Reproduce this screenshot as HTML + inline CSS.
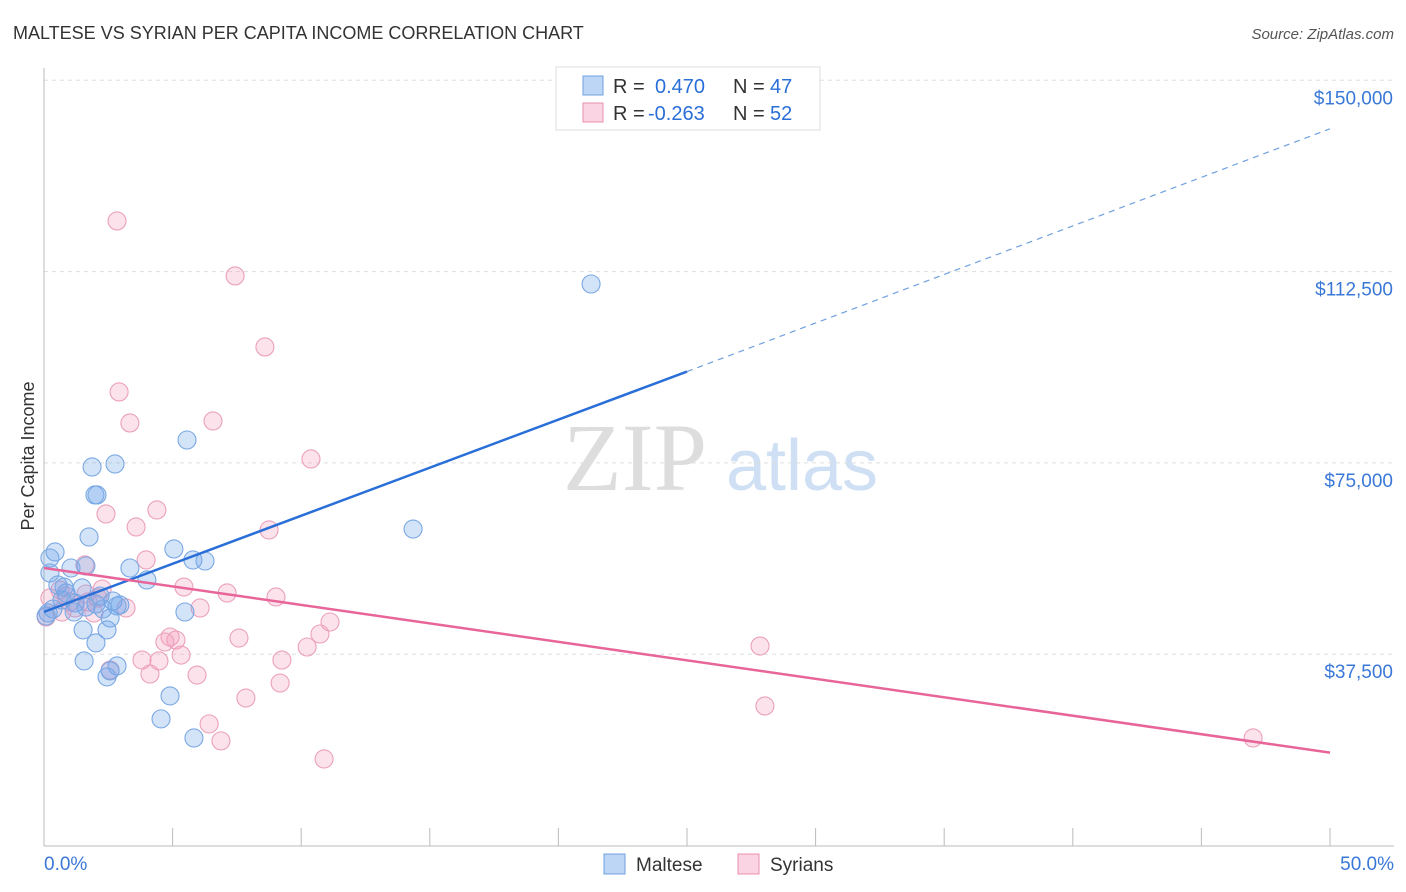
<!DOCTYPE html>
<html><head><meta charset="utf-8"><style>
body{margin:0;background:#fff;font-family:"Liberation Sans",sans-serif}
svg{display:block}
</style></head><body>
<svg id="chart" width="1406" height="892" xmlns="http://www.w3.org/2000/svg" font-family="Liberation Sans, sans-serif">
<text x="13" y="39" font-size="18" fill="#333">MALTESE VS SYRIAN PER CAPITA INCOME CORRELATION CHART</text>
<text x="1394" y="39" font-size="15" fill="#555" font-style="italic" text-anchor="end">Source: ZipAtlas.com</text>
<g>
<text x="635" y="490" font-size="96" fill="#ddd" font-family="Liberation Serif, serif" text-anchor="middle">ZIP</text>
<text x="802" y="490" font-size="72" fill="#cfe0f5" text-anchor="middle">atlas</text>
</g>
<g id="grid"></g>
<g id="axes"></g>
<g id="marks"></g>
<text transform="translate(34,456) rotate(-90)" font-size="18" fill="#333" text-anchor="middle">Per Capita Income</text>
<g>
<rect x="556" y="67" width="264" height="63" fill="#fff" stroke="#ddd"/>
<rect x="583" y="76" width="20" height="19" fill="rgba(110,165,235,0.45)" stroke="#6fa0e0"/>
<rect x="583" y="103" width="20" height="19" fill="rgba(245,160,190,0.45)" stroke="#e890b0"/>
<text x="613" y="93" font-size="20" fill="#333">R = <tspan x="655" fill="#2a6fd8">0.470</tspan><tspan x="733">N = </tspan><tspan x="770" fill="#2a6fd8">47</tspan></text>
<text x="613" y="120" font-size="20" fill="#333">R = <tspan x="648" fill="#2a6fd8">-0.263</tspan><tspan x="733">N = </tspan><tspan x="770" fill="#2a6fd8">52</tspan></text>
</g>
<g>
<rect x="604" y="854" width="21" height="20" fill="rgba(110,165,235,0.45)" stroke="#6fa0e0"/>
<text x="636" y="871" font-size="19" fill="#333">Maltese</text>
<rect x="738" y="854" width="21" height="20" fill="rgba(245,160,190,0.45)" stroke="#e890b0"/>
<text x="770" y="871" font-size="19" fill="#333">Syrians</text>
</g>
</svg>
<script>
const yTicks=[37500,75000,112500,150000];
const yTickLabels=["$37,500","$75,000","$112,500","$150,000"];
const xTickLabels=["0.0%","50.0%"];
const malteseX=[21.27,5.56,1.87,2.76,1.98,2.06,14.35,1.75,0.43,5.05,5.79,6.26,0.23,3.34,1.63,1.05,0.23,4.0,0.54,1.48,0.86,2.18,0.70,1.21,2.68,2.84,2.02,1.63,0.35,5.48,1.17,2.57,0.16,2.45,1.52,2.02,1.56,2.84,2.57,2.45,4.90,4.55,5.83,2.29,0.78,2.95,0.08];
const malteseY=[110070,79490,74200,74790,68710,68710,62040,60480,57540,58130,55970,55770,56360,54400,54790,54400,53420,52050,51070,50480,49500,48910,48130,47540,47930,46950,47340,46750,46360,45770,45770,44590,45580,42260,42260,39710,36180,35200,34220,33050,29320,24820,21080,46360,50670,47150,44990];
const syriansX=[2.84,7.43,8.59,2.92,3.34,6.57,10.38,2.41,4.39,3.58,8.75,3.97,1.59,5.44,2.26,7.12,9.02,0.62,1.71,6.07,3.19,1.94,1.01,0.23,0.08,11.12,10.73,7.58,4.90,5.13,4.70,10.23,5.33,3.81,4.47,9.25,27.84,5.95,4.12,2.57,9.18,7.85,28.03,6.42,6.88,47.01,10.89,0.70,1.21,2.10,1.63,0.86];
const syriansY=[122430,111650,97730,88910,82830,83220,75770,64990,65770,62440,61850,55970,54990,50670,50280,49500,48720,50080,47740,46560,46560,45580,47740,48520,44790,43810,41460,40670,40870,40280,39890,38910,37340,36360,36180,36360,39100,33420,33620,34400,31850,28910,27350,23840,20510,21080,16960,45770,46560,48520,49300,48910];
const blueTrend=[[0,45800],[25,92900],[50,140500]];
const pinkTrend=[[0,54400],[50,18200]];
const X0=44,X1=1330,Y0=845.5,YPX=191.3/37500;
const sx=v=>X0+(v/50)*(X1-X0);
const sy=v=>Y0-v*YPX;
const NS="http://www.w3.org/2000/svg";
function mk(t,a,p){const e=document.createElementNS(NS,t);for(const k in a)e.setAttribute(k,a[k]);p.appendChild(e);return e;}
const gridG=document.getElementById('grid'),axesG=document.getElementById('axes'),marksG=document.getElementById('marks');
yTicks.forEach((t,i)=>{
 const l=mk('line',{x1:44,x2:1394,y1:sy(t),y2:sy(t),stroke:'#ddd','stroke-dasharray':'4,4'},gridG);
 
 
 const tx=mk('text',{x:1393,y:sy(t)+24,'font-size':19,fill:'#3a78d8','text-anchor':'end'},axesG);
 tx.textContent=yTickLabels[i];
 
 
});
const ya=mk('line',{x1:44,x2:44,y1:68,y2:846,stroke:'#bbb'},axesG);


const xa=mk('line',{x1:44,x2:1394,y1:846,y2:846,stroke:'#bbb'},axesG);


for(let i=0;i<=10;i++){
 const t=mk('line',{x1:sx(i*5),x2:sx(i*5),y1:828,y2:846,stroke:'#bbb'},axesG);
 
 
}
const xl0=mk('text',{x:44,y:870,'font-size':19,fill:'#3a78d8'},axesG);xl0.textContent=xTickLabels[0];


const xl1=mk('text',{x:1394,y:870,'font-size':19,fill:'#3a78d8','text-anchor':'end'},axesG);xl1.textContent=xTickLabels[1];


function pts(xs,ys,fill,stroke,name){xs.forEach((x,i)=>{
 const c=mk('circle',{cx:sx(x),cy:sy(ys[i]),r:9,fill:fill,stroke:stroke,'stroke-width':1.1},marksG);
 
 
});}
pts(syriansX,syriansY,'rgba(245,160,190,0.3)','#eba0bc','syrians-point');
pts(malteseX,malteseY,'rgba(110,165,235,0.3)','#7aa8e2','maltese-point');
const b1=mk('line',{x1:sx(blueTrend[0][0]),y1:sy(blueTrend[0][1]),x2:sx(blueTrend[1][0]),y2:sy(blueTrend[1][1]),stroke:'#2a6fd8','stroke-width':2.5},marksG);


const b2=mk('line',{x1:sx(blueTrend[1][0]),y1:sy(blueTrend[1][1]),x2:sx(blueTrend[2][0]),y2:sy(blueTrend[2][1]),stroke:'#6fa0e0','stroke-width':1.2,'stroke-dasharray':'6,5'},marksG);


const p1=mk('line',{x1:sx(pinkTrend[0][0]),y1:sy(pinkTrend[0][1]),x2:sx(pinkTrend[1][0]),y2:sy(pinkTrend[1][1]),stroke:'#e8659a','stroke-width':2.5},marksG);


</script>
</body></html>
